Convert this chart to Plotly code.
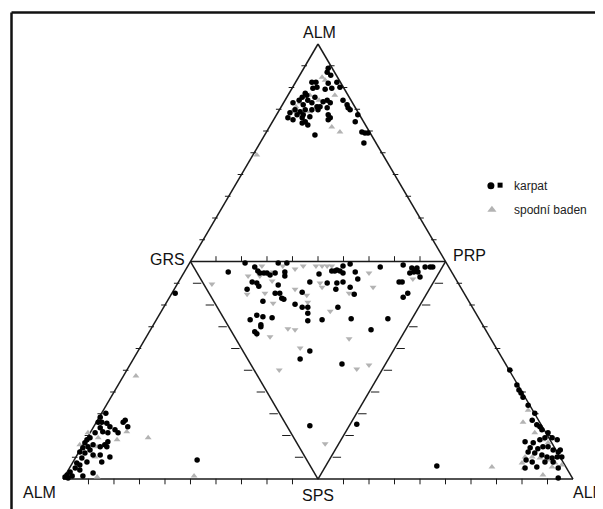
import plotly.graph_objects as go
import numpy as np

# ---------------- data (diagram units: base 0..100, height 0..86.6) ----------------
# karpat (black) and spodni baden (gray) analyses, one array pair per sub-triangle
top_karpat_x = [52.0, 51.8, 52.5, 48.8, 49.6, 52.0, 53.7, 54.3, 49.0, 49.8, 51.4, 52.7, 47.5, 46.9, 47.8, 49.4,
                46.3, 48.0, 51.0, 51.8, 52.4, 45.1, 47.1, 48.8, 49.8, 50.4, 51.8, 54.9, 55.7, 55.9, 56.3, 45.5,
                46.5, 47.5, 48.8, 50.0, 44.5, 45.9, 47.1, 48.4, 52.0, 52.4, 44.1, 45.1, 46.9, 47.5, 48.0, 46.9,
                52.0, 57.3, 57.8, 49.4, 58.6, 59.2, 59.8, 59.0]
top_karpat_y = [81.8, 81.0, 80.4, 79.0, 79.0, 78.8, 79.0, 78.0, 77.8, 78.0, 77.6, 77.8, 76.8, 76.0, 76.4, 76.0,
                75.4, 75.4, 75.1, 75.4, 74.9, 74.9, 74.5, 74.9, 74.1, 74.1, 73.9, 75.4, 74.5, 73.9, 73.5, 73.5,
                73.1, 73.5, 73.5, 73.5, 72.9, 72.5, 72.5, 72.1, 72.5, 71.9, 71.9, 71.5, 71.9, 71.1, 70.5, 70.9,
                71.5, 71.1, 72.5, 68.5, 69.1, 68.9, 68.9, 66.9]
top_baden_x = [50.8, 51.4, 46.5, 50.2, 45.7, 48.4, 44.9, 52.7, 54.3, 38.0, 48.4, 53.3]
top_baden_y = [80.0, 79.4, 74.9, 75.4, 74.1, 73.1, 73.1, 70.1, 69.1, 64.5, 76.4, 76.4]

mid_karpat_x = [32.4, 35.7, 37.6, 38.2, 38.6, 39.4, 40.0, 40.6, 41.6, 42.2, 43.9, 43.5, 43.5, 37.1, 38.0, 38.4,
                42.2, 41.6, 42.5, 42.9, 43.3, 39.2, 36.1, 45.5, 46.9, 46.9, 48.0, 48.4, 50.2, 48.0, 38.0, 39.2,
                41.0, 36.7, 38.8, 38.8, 37.6, 38.0, 48.0, 50.8, 52.7, 53.3, 53.7, 54.3, 54.9, 56.3, 54.9, 57.3,
                51.8, 53.7, 54.9, 53.5, 56.3, 57.8, 57.1, 53.9, 56.5, 60.4, 63.7, 62.2, 66.7, 68.4, 69.0, 69.4,
                68.8, 69.6, 71.0, 72.0, 72.5, 68.0, 65.9, 66.5, 70.0, 67.6, 66.7, 48.4, 46.5, 54.7, 48.4]
mid_karpat_y = [41.2, 43.0, 42.2, 41.4, 41.0, 41.0, 41.0, 40.6, 41.0, 43.0, 43.0, 41.2, 40.4, 39.2, 39.0, 38.4,
                38.6, 37.0, 37.0, 36.0, 35.8, 35.4, 37.8, 34.8, 37.2, 34.2, 34.2, 39.2, 40.8, 33.0, 32.6, 32.3,
                32.1, 31.7, 30.7, 30.3, 29.3, 28.9, 31.5, 31.7, 41.4, 41.4, 41.6, 41.4, 42.4, 42.8, 41.0, 41.2,
                39.0, 39.0, 39.2, 37.8, 38.2, 39.8, 36.8, 34.2, 31.9, 29.7, 31.9, 42.2, 42.6, 42.0, 41.6, 42.0,
                41.2, 41.2, 42.2, 42.2, 42.2, 41.0, 39.2, 39.2, 40.2, 37.0, 36.2, 25.5, 23.9, 22.9, 10.6]
mid_baden_x = [29.2, 36.3, 39.0, 38.6, 41.2, 41.0, 43.1, 45.5, 47.1, 49.6, 50.8, 51.8, 52.7, 50.4, 50.8, 45.5,
               39.6, 36.1, 41.2, 47.8, 48.0, 52.4, 44.1, 45.5, 40.6, 38.0, 56.1, 46.5, 57.6, 60.0, 42.4, 60.0,
               60.8, 56.1, 68.6, 51.4]
mid_baden_y = [38.8, 40.4, 42.4, 40.4, 41.2, 39.4, 42.4, 41.8, 42.4, 42.4, 42.4, 42.4, 42.4, 39.0, 38.2, 37.8,
               37.0, 36.8, 35.0, 36.6, 35.2, 33.4, 29.9, 29.7, 28.3, 28.7, 27.9, 26.1, 21.9, 22.7, 21.7, 41.0,
               38.2, 37.0, 39.8, 7.0]

left_karpat_x = [22.0, 8.4, 7.3, 6.9, 7.6, 8.6, 9.2, 12.2, 11.8, 12.7, 10.2, 10.8, 8.8, 7.8, 7.3, 6.3, 5.3, 4.7,
                 4.3, 5.9, 4.9, 3.9, 5.3, 7.3, 8.2, 8.6, 8.8, 3.3, 4.3, 5.9, 7.3, 9.2, 3.7, 4.7, 2.7, 3.3, 7.6,
                 2.4, 3.3, 1.4, 1.8, 0.8, 0.4, 1.0, 3.9, 5.9, 26.3]
left_karpat_y = [37.0, 13.1, 12.3, 11.3, 11.3, 11.1, 10.4, 11.7, 11.3, 10.4, 9.8, 9.2, 9.2, 9.4, 10.2, 9.2, 8.2,
                 7.8, 7.2, 6.8, 6.4, 6.2, 5.8, 6.4, 6.8, 6.4, 7.4, 5.4, 5.2, 4.8, 4.8, 4.4, 4.2, 3.4, 3.2, 2.8,
                 3.4, 2.2, 1.8, 1.4, 0.6, 0.8, 0.4, 0.2, 0.6, 1.2, 3.8]
left_baden_x = [14.3, 12.5, 10.6, 16.7, 6.7, 6.9, 6.3, 3.3, 4.9, 6.7, 25.7]
left_baden_y = [20.5, 9.4, 7.8, 8.2, 6.4, 8.2, 4.4, 6.8, 9.2, 0.4, 0.6]

right_karpat_x = [57.6, 73.3, 87.6, 89.0, 89.4, 89.8, 90.2, 91.2, 92.5, 92.0, 92.9, 93.5, 93.9, 95.1, 94.5, 95.9,
                  96.9, 93.5, 90.6, 92.2, 91.6, 93.1, 94.1, 95.1, 96.1, 97.1, 97.5, 91.2, 92.5, 93.9, 94.9, 95.9,
                  96.9, 97.8, 90.8, 92.0, 92.9, 90.6, 94.5, 96.1, 97.1, 97.1]
right_karpat_y = [10.9, 2.6, 21.7, 18.7, 17.7, 17.1, 16.3, 14.7, 13.1, 11.7, 10.8, 10.4, 9.8, 9.2, 8.2, 8.2,
                  7.8, 7.8, 7.4, 7.2, 6.2, 6.0, 6.4, 6.4, 5.8, 5.4, 5.8, 5.4, 5.2, 4.8, 4.4, 4.2,
                  4.4, 4.4, 3.8, 3.4, 2.4, 2.2, 3.4, 3.4, 2.2, 0.2]
right_baden_x = [91.2, 90.2, 92.5, 94.1, 95.1, 90.6, 92.0, 93.5, 95.1, 96.5, 97.8, 90.0, 90.4, 94.1, 95.9, 84.1]
right_baden_y = [13.7, 11.3, 9.2, 7.8, 7.2, 4.4, 4.4, 4.2, 3.8, 3.2, 2.8, 3.2, 2.2, 0.8, 2.4, 2.4]

vertex_labels = ["ALM", "GRS", "PRP", "ALM", "SPS", "ALM"]
legend_names = ["karpat", "spodní baden"]

# ---------------- geometry ----------------
H = 100 * np.sqrt(3) / 2
A_top, G, P = (50, H), (25, H / 2), (75, H / 2)
A_bl, S, A_br = (0, 0), (50, 0), (100, 0)

BLACK = "#000000"
GRAY = "#b3b3b3"
LINE = "#1a1a1a"
FONT = "Arial, Liberation Sans, sans-serif"

# page body has an 8px margin: figure drawn 8px in from the window edge
W, HGT = 595, 501

fig = go.Figure()


def seg(p, q, w=1.5):
    fig.add_trace(go.Scatter(x=[p[0], q[0]], y=[p[1], q[1]], mode="lines",
                             line=dict(color=LINE, width=w), hoverinfo="skip", showlegend=False))


for p, q in [(A_bl, A_top), (A_top, A_br), (A_bl, A_br), (G, P), (G, S), (P, S)]:
    seg(p, q)


def ticks_along(p, q, fracs, dx, dy, symbol, size):
    xs = [p[0] + (q[0] - p[0]) * f + dx for f in fracs]
    ys = [p[1] + (q[1] - p[1]) * f + dy for f in fracs]
    fig.add_trace(go.Scatter(x=xs, y=ys, mode="markers", hoverinfo="skip", showlegend=False,
                             marker=dict(symbol=symbol, size=size, line=dict(color=LINE, width=1))))


f20 = [k / 20 for k in range(1, 20) if k != 10]
f10 = [k / 10 for k in range(1, 10)]
ticks_along(A_bl, A_br, f20, 0, -0.5, "line-ns", 4)
ticks_along(A_bl, A_top, f20, -0.2, 0, "line-ew", 4)
ticks_along(A_br, A_top, f20, 0.2, 0, "line-ew", 4)
ticks_along(G, P, f10, 0, 0.5, "line-ns", 4)
ticks_along(G, S, f10, -1.2, 0, "line-ew", 6)
ticks_along(P, S, f10, 1.2, 0, "line-ew", 6)

# ---------------- data points ----------------
groups = [
    (top_baden_x, top_baden_y, top_karpat_x, top_karpat_y, "triangle-up"),
    (left_baden_x, left_baden_y, left_karpat_x, left_karpat_y, "triangle-up"),
    (right_baden_x, right_baden_y, right_karpat_x, right_karpat_y, "triangle-up"),
    (mid_baden_x, mid_baden_y, mid_karpat_x, mid_karpat_y, "triangle-down"),
]
for bx, by, kx, ky, sym in groups:
    fig.add_trace(go.Scatter(x=bx, y=by, mode="markers", name=legend_names[1], showlegend=False,
                             marker=dict(symbol=sym, size=6, color=GRAY, line=dict(width=0))))
for bx, by, kx, ky, sym in groups:
    fig.add_trace(go.Scatter(x=kx, y=ky, mode="markers", name=legend_names[0], showlegend=False,
                             marker=dict(symbol="circle", size=5.5, color=BLACK, line=dict(width=0))))

# ---------------- legend (drawn manually) ----------------
LEG_X, LEG_Y1, LEG_Y2 = 83.9, 58.4, 53.6
fig.add_trace(go.Scatter(x=[LEG_X], y=[LEG_Y1], mode="markers", showlegend=False, hoverinfo="skip",
                         marker=dict(symbol="circle", size=7, color=BLACK)))
fig.add_trace(go.Scatter(x=[LEG_X + 1.8], y=[LEG_Y1 + 0.1], mode="markers", showlegend=False, hoverinfo="skip",
                         marker=dict(symbol="square", size=5, color=BLACK)))
fig.add_trace(go.Scatter(x=[LEG_X + 0.2], y=[LEG_Y2], mode="markers", showlegend=False, hoverinfo="skip",
                         marker=dict(symbol="triangle-up", size=8, color=GRAY)))
for name, yy in zip(legend_names, [LEG_Y1, LEG_Y2]):
    fig.add_annotation(x=LEG_X + 4.2, y=yy, text=name, showarrow=False, xanchor="left", yanchor="middle",
                       font=dict(family=FONT, size=12, color="#222"))

# ---------------- vertex labels ----------------
label_pos = [
    (A_top[0] + 0.2, A_top[1] + 2.3, "center"),
    (G[0] - 0.6, G[1] + 0.5, "right"),
    (P[0] + 1.0, P[1] + 1.2, "left"),
    (A_bl[0] - 4.6, A_bl[1] - 2.6, "center"),
    (S[0], S[1] - 3.2, "center"),
    (A_br[0] - 0.3, A_br[1] - 2.6, "left"),
]
for txt, (lx, ly, anc) in zip(vertex_labels, label_pos):
    fig.add_annotation(x=lx, y=ly, text=txt, showarrow=False, xanchor=anc, yanchor="middle",
                       font=dict(family=FONT, size=16, color="#111"))

# ---------------- frame (left + top border) ----------------
fx, fy = 3.5 / W, 1 - 4.5 / HGT
fig.add_shape(type="line", xref="paper", yref="paper", x0=fx, y0=-0.01, x1=fx, y1=fy,
              line=dict(color="#111", width=2.5))
fig.add_shape(type="line", xref="paper", yref="paper", x0=fx, y0=fy, x1=1.01, y1=fy,
              line=dict(color="#111", width=2.5))

fig.update_layout(
    width=W, height=HGT, margin=dict(l=0, r=0, t=0, b=0),
    paper_bgcolor="white", plot_bgcolor="white", showlegend=False,
    xaxis=dict(range=[-10.78, 105.88], visible=False, fixedrange=True),
    yaxis=dict(range=[-5.97, 93.77], visible=False, fixedrange=True),
)
fig.write_html("out.html")
